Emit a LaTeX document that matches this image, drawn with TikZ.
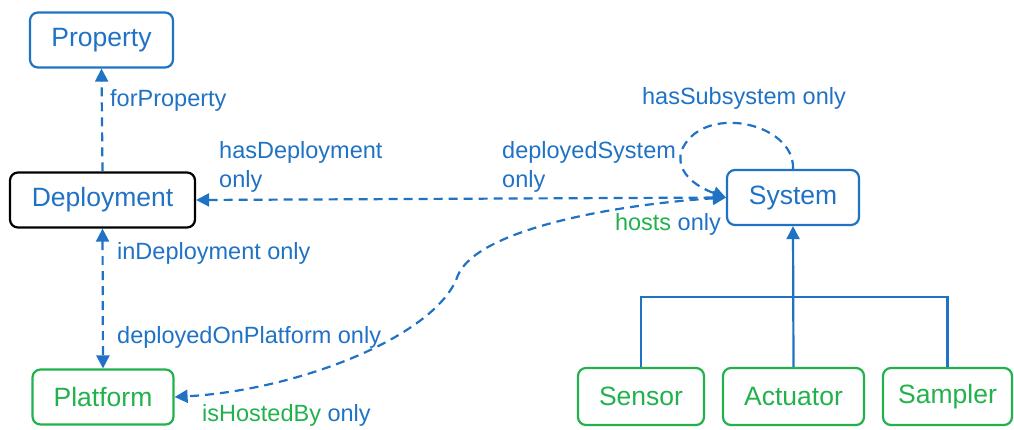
\documentclass[tikz,border=0pt]{standalone}
\usepackage{fontspec}
\setmainfont{Liberation Sans}
\usetikzlibrary{arrows.meta}
\definecolor{myblue}{RGB}{32,114,196}
\definecolor{mygreen}{RGB}{34,177,76}
\tikzset{
  box/.style={draw, line width=2.2pt, rounded corners=8pt, minimum height=55pt, inner sep=0pt,
    font=\fontsize{26.5}{30}\selectfont},
  bluebox/.style={box, draw=myblue, text=myblue},
  greenbox/.style={box, draw=mygreen, text=mygreen},
  blackbox/.style={box, draw=black, text=myblue},
  lbl/.style={text=myblue, inner sep=0pt, font=\fontsize{23.5}{29}\selectfont, align=left},
  conn/.style={draw=myblue, line width=2.2pt, dash pattern=on 9pt off 6pt},
  tip/.style={-{Triangle[length=13pt,width=13pt]}},
  dtip/.style={{Triangle[length=13pt,width=13pt]}-{Triangle[length=13pt,width=13pt]}},
  tree/.style={draw=myblue, line width=2.2pt}
}
\begin{document}
\begin{tikzpicture}[x=1pt,y=-1pt]
\useasboundingbox (0,0) rectangle (1014,429);
\node[bluebox, minimum width=143pt] (prop) at (101.5,40) {Property};
\node[blackbox, minimum width=185pt] (dep) at (102.5,200) {Deployment};
\node[greenbox, minimum width=141pt] (plat) at (103,397) {Platform};
\node[bluebox, minimum width=132pt] (sys) at (793,197.5) {System};
\node[greenbox, minimum width=126pt, minimum height=57pt] (sen) at (641,396.5) {Sensor};
\node[greenbox, minimum width=141pt, minimum height=57pt] (act) at (793.5,396.5) {Actuator};
\node[greenbox, minimum width=129pt, minimum height=57pt] (samp) at (947.5,396.5) {Sampler};

% tree
\coordinate (bar) at (793,297);
\draw[tree] (sen.north) |- (bar) -| (samp.north);
\draw[tree, tip] (act.north) -- (sys.south);

% dashed connectors
\draw[conn, tip] (dep.north) -- (prop.south);
\draw[conn, dtip] (dep.south) -- (plat.north);
\draw[conn, dtip] (dep.east) -- (sys.west);
\draw[conn, tip] (sys.north) .. controls (795,122) and (700,102) .. (681,152)
   .. controls (676,175) and (700,188) .. (sys.west);
\draw[conn, dtip] (sys.west) .. controls (610,205) and (478,230) .. (458,275)
   .. controls (438,335) and (300,390) .. (plat.east);

% labels
\node[lbl, anchor=west] (lfp) at (110,100) {forProperty};
\node[lbl, anchor=west] (lhd) at (219,166.5) {hasDeployment\\only};
\node[lbl, anchor=west] (lds) at (502,166.5) {deployedSystem\\only};
\node[lbl] (lhs) at (744,98) {hasSubsystem only};
\node[lbl, anchor=east] (lho) at (721,224) {\textcolor{mygreen}{hosts} only};
\node[lbl, anchor=west] (lid) at (117,253) {inDeployment only};
\node[lbl, anchor=west] (ldp) at (117,337) {deployedOnPlatform only};
\node[lbl, anchor=west] (lhb) at (202,415) {\textcolor{mygreen}{isHostedBy} only};
\end{tikzpicture}
\end{document}
